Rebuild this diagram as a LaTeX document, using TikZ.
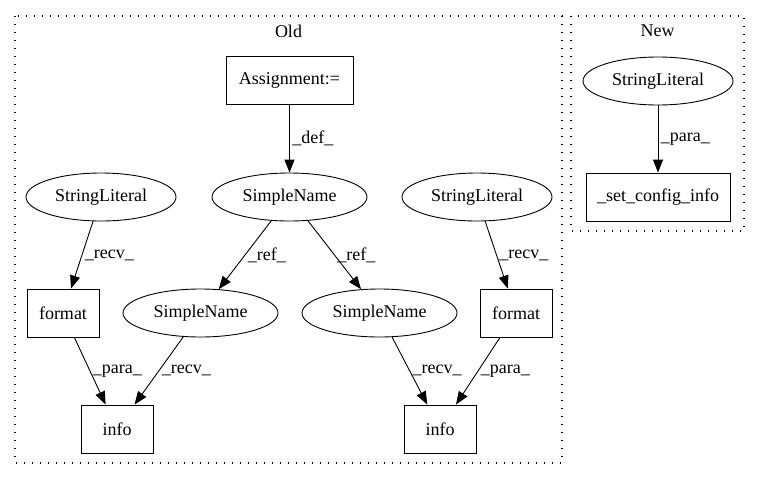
\documentclass[tikz,border=0pt]{standalone}
\usepackage{fontspec}
\setmainfont{Liberation Serif}
\usetikzlibrary{arrows.meta}
\usetikzlibrary{shapes.geometric}

\begin{document}
\begin{tikzpicture}[x=1pt,y=-1pt,
		font=\fontsize{18}{21}\selectfont,
		box/.style={draw,line width=0.9pt,rectangle,minimum height=48pt,inner sep=0pt},
		oval/.style={draw,line width=0.9pt,ellipse,minimum height=48pt,inner sep=0pt},
		cluster/.style={draw,line width=1.2pt,dash pattern=on 1.4pt off 6.6pt},
		edge/.style={line width=0.9pt,-{Triangle[length=13pt,width=10pt]}},
		lbl/.style={midway,right,inner sep=2.5pt}]
		\useasboundingbox (0,0) rectangle (760,480);
		\draw[cluster] (15,16) rectangle (562,463);
		\draw[cluster] (571,16) rectangle (744,231);
		\node (oldname) at (288.5,31) {Old};
		\node (newname) at (657.5,31) {New};
		\node[box,minimum width=127pt] (assign) at (289.5,80.5) {Assignment:=};
		\node[oval,minimum width=155pt] (name) at (289.5,197) {SimpleName};
		\node[oval,minimum width=150pt] (strL) at (101,197) {StringLiteral};
		\node[oval,minimum width=150pt] (strR) at (477,197) {StringLiteral};
		\node[box,minimum width=72pt] (fmtL) at (63,313) {format};
		\node[oval,minimum width=155pt] (nameL) at (200.5,313) {SimpleName};
		\node[oval,minimum width=155pt] (nameR) at (379.5,313) {SimpleName};
		\node[box,minimum width=72pt] (fmtR) at (516,313) {format};
		\node[box,minimum width=72pt] (infoL) at (117,429) {info};
		\node[box,minimum width=72pt] (infoR) at (440,429) {info};
		\node[oval,minimum width=150pt] (strN) at (658,81) {StringLiteral};
		\node[box,minimum width=144pt] (setinfo) at (658,197) {\_set\_config\_info};
		\draw[edge] (assign) -- (name) node[lbl] {\_def\_};
		\draw[edge] (name) -- (nameL) node[lbl] {\_ref\_};
		\draw[edge] (name) -- (nameR) node[lbl] {\_ref\_};
		\draw[edge] (strL) -- (fmtL) node[lbl] {\_recv\_};
		\draw[edge] (strR) -- (fmtR) node[lbl] {\_recv\_};
		\draw[edge] (fmtL) -- (infoL) node[lbl] {\_para\_};
		\draw[edge] (nameL) -- (infoL) node[lbl] {\_recv\_};
		\draw[edge] (nameR) -- (infoR) node[lbl] {\_recv\_};
		\draw[edge] (fmtR) -- (infoR) node[lbl] {\_para\_};
		\draw[edge] (strN) -- (setinfo) node[lbl] {\_para\_};
	\end{tikzpicture}
\end{document}
